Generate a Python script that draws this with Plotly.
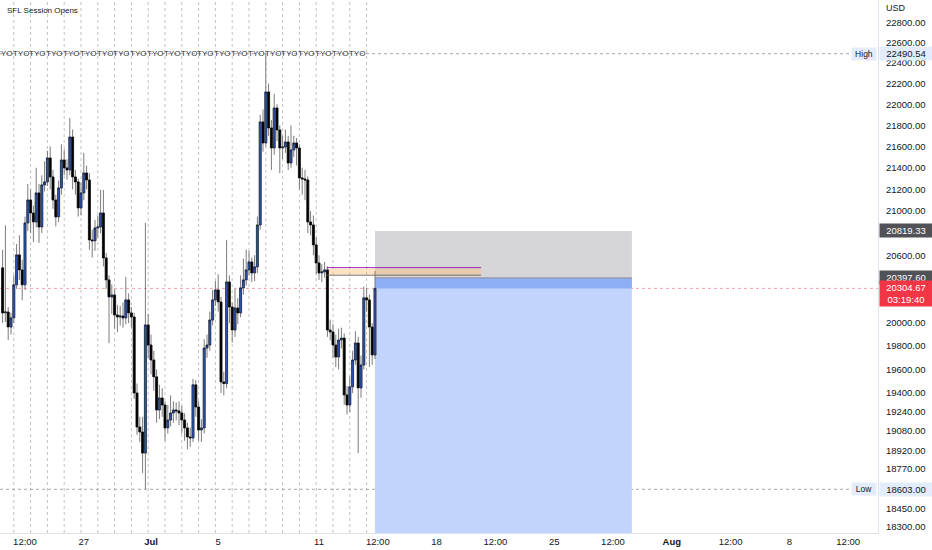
import numpy as np
import pandas as pd
import plotly.graph_objects as go

# ---------------- data (BTCUSD, 4h bars) ----------------
bar_start = "2022-06-22 04:00"
first_open = 20487
closes = [
    20089, 20097, 19966, 20045, 20336, 20603, 20469, 20336, 20892, 21102,
    20983, 20901, 21167, 20855, 21241, 21269, 21492, 21315, 21102, 20947,
    21213, 21473, 21399, 21380, 21689, 21315, 21269, 21029, 21167, 21352,
    21287, 20738, 20730, 20846, 20855, 20983, 20576, 20380, 20229, 20247,
    20071, 20053, 20062, 20045, 20203, 20089, 20053, 19400, 19115, 19073,
    18899, 19984, 19810, 19681, 19537, 19257, 19358, 19299, 19107, 19173,
    19232, 19257, 19249, 19232, 19173, 19107, 19032, 19024, 19469, 19282,
    19090, 19107, 19784, 19810, 20027, 20203, 20291, 20185, 19494, 19480,
    20362, 20141, 19940, 20132, 20089, 20309, 20380, 20469, 20540, 20442,
    20496, 20874, 21832, 21633, 22119, 21775, 21586, 21965, 21756, 21586,
    21595, 21642, 21445, 21567, 21633, 21586, 21306, 21296, 21287, 20901,
    20874, 20693, 20531, 20442, 20451, 20469, 19940, 19923, 19810, 19707,
    19853, 19870, 19384, 19299, 19452, 19681, 19827, 19443, 19638, 20221,
    20203, 19966, 19724, 20304.67,
]
highs = [
    20648, 20870, 20140, 20090, 20420, 20700, 20780, 20560, 20950, 21250,
    21200, 21050, 21400, 21250, 21330, 21460, 21560, 21600, 21380, 21150,
    21280, 21620, 21570, 21480, 21870, 21760, 21380, 21300, 21260, 21540,
    21420, 21350, 20830, 20920, 20960, 21195, 21195, 20620, 20420, 20340,
    20300, 20160, 20150, 20180, 20407, 20260, 20140, 20090, 19480, 19200,
    19200, 20892, 20080, 19900, 19760, 19600, 19470, 19440, 19330, 19300,
    19380, 19330, 19320, 19330, 19290, 19230, 19150, 19110, 19520, 19510,
    19330, 19180, 19860, 19900, 20100, 20290, 20370, 20430, 20230, 19580,
    20738, 20420, 20180, 20300, 20220, 20420, 20570, 20650, 20640, 20580,
    20600, 20950, 21900, 21950, 22490.54, 22200, 21850, 22100, 22000, 21800,
    21700, 21760, 21700, 21800, 21700, 21680, 21620, 21400, 21380, 21320,
    21000, 20960, 20760, 20600, 20520, 20540, 20500, 20030, 19990, 19900,
    19950, 19960, 19910, 19460, 19540, 19760, 19930, 19880, 19720, 20320,
    20310, 20250, 20000, 20460,
]
lows = [
    20001, 20010, 19853, 19900, 20000, 20300, 20380, 20200, 20290, 20820,
    20800, 20720, 20850, 20711, 20800, 21180, 21230, 21200, 21020, 20860,
    20900, 21150, 21330, 21290, 21330, 21200, 21150, 20950, 20960, 21100,
    21200, 20650, 20580, 20640, 20760, 20800, 20500, 20300, 19827, 20080,
    19950, 19920, 19980, 19960, 19990, 20000, 19960, 19350, 19050, 18990,
    18736, 18603, 19700, 19560, 19420, 19150, 19180, 19200, 19000, 19060,
    19120, 19150, 19170, 19130, 19060, 19000, 18930, 18950, 18990, 19200,
    19000, 18990, 19060, 19700, 19760, 19980, 20150, 20100, 19400, 19380,
    19440, 20000, 19830, 19880, 19990, 20050, 20250, 20330, 20420, 20360,
    20370, 20440, 20830, 21550, 21600, 21700, 21380, 21520, 21650, 21350,
    21480, 21540, 21380, 21400, 21500, 21420, 21200, 21150, 21100, 20800,
    20780, 20600, 20430, 20380, 20360, 20400, 19880, 19850, 19700, 19620,
    19600, 19780, 19300, 19220, 19240, 19400, 19640, 18899, 19360, 19600,
    20100, 19622, 19640, 19690,
]

session_first = "2022-06-22 20:00"   # Tokyo opens (one per day)
session_count = 22

entry_price = 20397.60
stop_price = 20819.33
target_price = 18100.0
last_price = 20304.67
countdown = "03:19:40"
tool_start = "2022-07-14 08:00"
tool_end = "2022-07-29 15:00"

high_price = 22490.54
low_price = 18603.00

open_levels = [20489, 20478, 20430, 20422]
open_start = "2022-07-11 11:00"
open_end = "2022-07-20 15:30"

y_ticks = [22800, 22600, 22400, 22200, 22000, 21800, 21600, 21400, 21200, 21000,
           20600, 20000, 19800, 19600, 19400, 19240, 19080, 18920, 18770, 18450, 18300]

x_tick_vals = ["2022-06-23 12:00", "2022-06-27", "2022-07-01", "2022-07-05", "2022-07-11",
               "2022-07-14 12:00", "2022-07-18", "2022-07-21 12:00", "2022-07-25",
               "2022-07-28 12:00", "2022-08-01", "2022-08-04 12:00", "2022-08-08",
               "2022-08-11 12:00"]
x_tick_text = ["12:00", "27", "<b>Jul</b>", "5", "11", "12:00", "18", "12:00", "25",
               "12:00", "<b>Aug</b>", "12:00", "8", "12:00"]

# ---------------- build ----------------
times = pd.date_range(bar_start, periods=len(closes), freq="4h")
opens = [first_open] + closes[:-1]
body_hi = [max(o, c) for o, c in zip(opens, closes)]
body_lo = [min(o, c) for o, c in zip(opens, closes)]

UP = "#2d55b8"
FONT = "Liberation Sans, Arial, sans-serif"
TXT = "#131722"

fig = go.Figure()
# wicks
fig.add_trace(go.Candlestick(
    x=times, open=opens, high=highs, low=lows, close=closes,
    increasing=dict(line=dict(color="#7c7c7c", width=1), fillcolor="rgba(0,0,0,0)"),
    decreasing=dict(line=dict(color="#7c7c7c", width=1), fillcolor="rgba(0,0,0,0)"),
    hoverinfo="skip", showlegend=False))
# bodies
fig.add_trace(go.Candlestick(
    x=times, open=opens, high=body_hi, low=body_lo, close=closes,
    increasing=dict(line=dict(color="#0c1020", width=0.5), fillcolor=UP),
    decreasing=dict(line=dict(color="#000000", width=0.5), fillcolor="#000000"),
    hoverinfo="skip", showlegend=False))

shapes = []
# position tool
shapes.append(dict(type="rect", xref="x", yref="y", x0=tool_start, x1=tool_end,
                   y0=entry_price, y1=stop_price, fillcolor="#d6d6d8", line_width=0, layer="below"))
shapes.append(dict(type="rect", xref="x", yref="y", x0=tool_start, x1=tool_end,
                   y0=target_price, y1=entry_price, fillcolor="#c3d4fc", line_width=0, layer="below"))
shapes.append(dict(type="rect", xref="x", yref="y", x0=tool_start, x1=tool_end,
                   y0=last_price, y1=entry_price, fillcolor="#8eaef5", line_width=0, layer="below"))
shapes.append(dict(type="line", xref="x", yref="y", x0=tool_start, x1=tool_end,
                   y0=entry_price, y1=entry_price, line=dict(color="#8a8d96", width=1), layer="below"))
# session opening levels
shapes.append(dict(type="rect", xref="x", yref="y", x0=open_start, x1=open_end,
                   y0=open_levels[2], y1=open_levels[1], fillcolor="rgba(255,190,120,0.45)",
                   line_width=0, layer="below"))
shapes.append(dict(type="line", xref="x", yref="y", x0=open_start, x1=open_end,
                   y0=open_levels[0], y1=open_levels[0], line=dict(color="#9c27b0", width=1)))
shapes.append(dict(type="line", xref="x", yref="y", x0=open_start, x1=open_end,
                   y0=open_levels[3], y1=open_levels[3], line=dict(color="#7d6a55", width=1)))
# vertical session lines
sess = pd.date_range(session_first, periods=session_count, freq="1D")
for t in sess:
    shapes.append(dict(type="line", xref="x", yref="paper", x0=t, x1=t, y0=0, y1=1,
                       line=dict(color="#c2c2c2", width=1, dash="dot"), layer="below"))
# horizontal dotted lines
shapes.append(dict(type="line", xref="paper", yref="y", x0=0, x1=0.972, y0=high_price, y1=high_price,
                   line=dict(color="#a5a8b0", width=1, dash="dot"), layer="below"))
shapes.append(dict(type="line", xref="paper", yref="y", x0=0, x1=0.972, y0=low_price, y1=low_price,
                   line=dict(color="#a5a8b0", width=1, dash="dot"), layer="below"))
shapes.append(dict(type="line", xref="paper", yref="y", x0=0, x1=1, y0=last_price, y1=last_price,
                   line=dict(color="#f5a3ab", width=1, dash="dot"), layer="below"))

ann = []
ann.append(dict(xref="paper", yref="paper", x=0.006, y=0.981, text="SFL Session Opens",
                showarrow=False, xanchor="left", yanchor="middle", font=dict(size=8, color=TXT, family=FONT)))
ann.append(dict(xref="paper", yref="paper", x=1.007, y=0.985, text="USD",
                showarrow=False, xanchor="left", yanchor="middle", font=dict(size=9, color=TXT, family=FONT)))
for t in sess:
    ann.append(dict(xref="x", yref="y", x=t, y=np.log10(high_price), text="TYO", showarrow=False,
                    xanchor="right", yanchor="middle", font=dict(size=8, color="#333333", family=FONT)))


def axis_box(price, text, bg, fg, dy=0):
    ann.append(dict(xref="paper", yref="y", x=1.0, y=np.log10(price), text=text, showarrow=False,
                    xanchor="left", yanchor="middle", xshift=1, yshift=dy, width=50, align="center",
                    bgcolor=bg, borderpad=1, font=dict(size=9.5, color=fg, family=FONT)))


axis_box(high_price, f"{high_price:.2f}", "#e3ecfa", TXT)
axis_box(low_price, f"{low_price:.2f}", "#e3ecfa", TXT)
axis_box(stop_price, f"{stop_price:.2f}", "#505257", "#ffffff")
axis_box(entry_price, f"{entry_price:.2f}", "#505257", "#ffffff")
axis_box(last_price, f"{last_price:.2f}<br>{countdown}", "#f23645", "#ffffff", dy=-5)
for price, lab in [(high_price, "High"), (low_price, "Low")]:
    ann.append(dict(xref="paper", yref="y", x=0.999, y=np.log10(price), text=lab, showarrow=False,
                    xanchor="right", yanchor="middle", width=22, align="center",
                    bgcolor="#e3ecfa", borderpad=1, font=dict(size=8.5, color=TXT, family=FONT)))

y_lo, y_hi = 18252, 23023
fig.update_layout(
    width=932, height=550, margin=dict(l=0, r=54, t=0, b=17),
    paper_bgcolor="white", plot_bgcolor="white", showlegend=False,
    boxgap=0.0,
    shapes=shapes, annotations=ann,
    font=dict(family=FONT, color=TXT),
    xaxis=dict(type="date", range=["2022-06-22 00:17", "2022-08-13 06:34"],
               rangeslider=dict(visible=False), showgrid=False, zeroline=False,
               tickmode="array", tickvals=x_tick_vals, ticktext=x_tick_text,
               tickfont=dict(size=9.5, color=TXT), ticks="", showline=True,
               linecolor="#e0e3eb", linewidth=1),
    yaxis=dict(type="log", range=[np.log10(y_lo), np.log10(y_hi)], side="right",
               showgrid=False, zeroline=False, tickmode="array", tickvals=y_ticks,
               ticktext=[f"{v:.2f}" for v in y_ticks], tickfont=dict(size=9.5, color=TXT),
               ticks="", showline=True, linecolor="#e0e3eb", linewidth=1, ticklabelstandoff=5),
)

fig.write_html("out.html", config={"displayModeBar": False},
               post_script="document.body.style.margin='0';")
